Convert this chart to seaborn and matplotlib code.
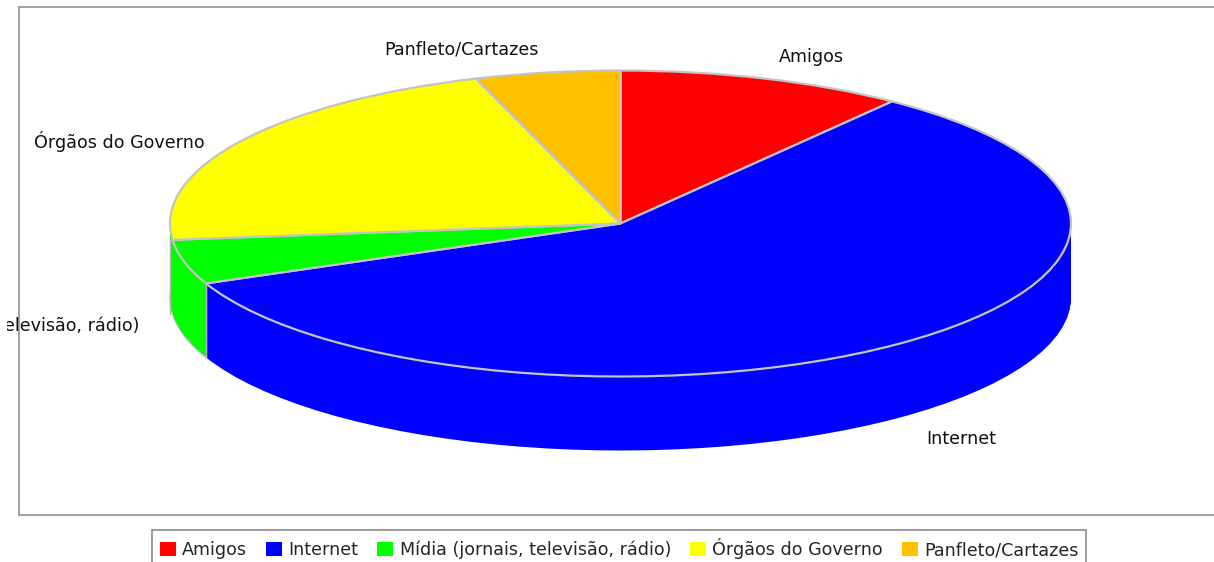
import numpy as np
import matplotlib
matplotlib.use('Agg')
import matplotlib.pyplot as plt
import seaborn as sns
from matplotlib.patches import Rectangle

categories = ['Amigos', 'Internet', 'Mídia (jornais, televisão, rádio)', 'Órgãos do Governo', 'Panfleto/Cartazes']
values = [10.3, 58.3, 4.7, 21.5, 5.2]
colors = sns.color_palette(['#ff0000', '#0000ff', '#00ff00', '#ffff00', '#ffc000'])

W, H = 1214, 562
CX, CY, RX, RY = 620.5, 223.5, 450.5, 153
DEPTH = 74
FS = 12.6
TXT = '#111111'

sns.set_theme(style='white')
plt.rcParams['font.family'] = ['DejaVu Sans']

fig = plt.figure(figsize=(W / 100, H / 100), dpi=100)
# plot frame runs off the right side of the image
left, right, top, bottom = 19, 1230, 7, 515
ax = fig.add_axes([left / W, 1 - bottom / H, (right - left) / W, (bottom - top) / H])

# side wall: stack of pies going up to the top face
for off in np.arange(DEPTH, 0, -1):
    wedges, _ = ax.pie(values, colors=colors, startangle=90, counterclock=False,
                       center=(0, -off / RY), wedgeprops={'linewidth': 0})
    # the reference shows no yellow wall, green runs out to the left edge
    wedges[3].set_facecolor(colors[2])
    if off == DEPTH:
        for w in wedges[2:4]:
            w.set_edgecolor('#b8b8b8')
            w.set_linewidth(1)

# top face
wedges, _ = ax.pie(values, colors=colors, startangle=90, counterclock=False,
                   wedgeprops={'linewidth': 1.6, 'edgecolor': '#c4c4c4'})

# vertical edges of the Mídia side wall (theta2 is the Internet side)
seam = np.radians(wedges[2].theta2)
rim = np.radians(wedges[2].theta1)
ax.plot([np.cos(seam)] * 2, [np.sin(seam), np.sin(seam) - DEPTH / RY], color='#b8b8b8', lw=1, zorder=5)
ax.plot([-1, -1], [np.sin(rim), np.sin(rim) - DEPTH / RY], color='#b8b8b8', lw=1, zorder=5)

ax.set_aspect('auto')
ax.set_xlim((left - CX) / RX, (right - CX) / RX)
ax.set_ylim((CY - bottom) / RY, (CY - top) / RY)
ax.set_frame_on(True)
for s in ax.spines.values():
    s.set_visible(True)
    s.set_color('#9a9a9a')
    s.set_linewidth(1.3)

# labels placed in pixels of the image
fig.text(811 / W, 1 - 57 / H, 'Amigos', ha='center', va='center', fontsize=FS, color=TXT)
fig.text(961 / W, 1 - 439 / H, 'Internet', ha='center', va='center', fontsize=FS, color=TXT)
fig.text(461.5 / W, 1 - 49 / H, 'Panfleto/Cartazes', ha='center', va='center', fontsize=FS, color=TXT)
fig.text(119 / W, 1 - 142 / H, 'Órgãos do Governo', ha='center', va='center', fontsize=FS, color=TXT)
# this label is cut by the edge of the chart in the reference
t = fig.text(139 / W, 1 - 326 / H, categories[2], ha='right', va='center', fontsize=FS, color=TXT)
t.set_clip_path(Rectangle((7, 0), W, H, transform=None))
t.set_clip_on(True)

leg = fig.legend(wedges, categories, ncol=5, loc='lower left',
                 bbox_to_anchor=(152 / W, -5 / H), frameon=True, fancybox=False,
                 edgecolor='#8a8a8a', facecolor='white', framealpha=1, fontsize=FS,
                 handlelength=0.91, handleheight=0.91, handletextpad=0.35, columnspacing=1.1,
                 borderpad=0.45, borderaxespad=0)
leg.get_frame().set_linewidth(1.2)
for h in leg.legend_handles:
    h.set_linewidth(0)

plt.savefig('out.png', dpi=100)
